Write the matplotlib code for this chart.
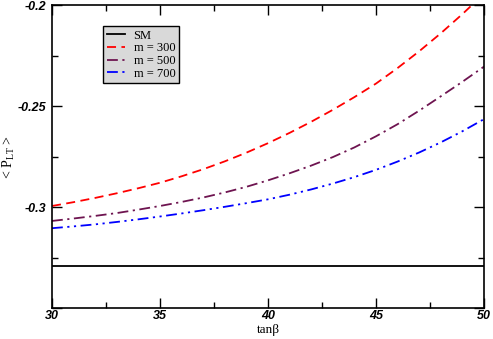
import numpy as np
import matplotlib.pyplot as plt
from matplotlib.ticker import MultipleLocator

plt.rcParams['mathtext.fontset'] = 'custom'
plt.rcParams['mathtext.rm'] = 'Liberation Serif'

# valores
tanb = [30, 31, 32, 33, 34, 35, 36, 37, 38, 39, 40,
        41, 42, 43, 44, 45, 46, 47, 48, 49, 50]
sm = [-0.3292] * len(tanb)
p_m300 = [-0.2995, -0.2976, -0.2955, -0.2932, -0.2907, -0.2880, -0.2848,
          -0.2813, -0.2774, -0.2731, -0.2684, -0.2633, -0.2578, -0.2519,
          -0.2456, -0.2389, -0.2312, -0.2229, -0.2140, -0.2045, -0.1944]
p_m500 = [-0.3069, -0.3057, -0.3044, -0.3030, -0.3013, -0.2995, -0.2975,
          -0.2953, -0.2928, -0.2900, -0.2868, -0.2833, -0.2795, -0.2753,
          -0.2705, -0.2650, -0.2590, -0.2523, -0.2452, -0.2380, -0.2305]
p_m700 = [-0.3105, -0.3096, -0.3086, -0.3074, -0.3061, -0.3047, -0.3032,
          -0.3016, -0.2999, -0.2981, -0.2962, -0.2939, -0.2913, -0.2884,
          -0.2852, -0.2816, -0.2775, -0.2730, -0.2680, -0.2625, -0.2565]

fig = plt.figure(figsize=(4.93, 3.39), dpi=100)
ax = fig.add_axes([52/493, 1 - 308/339, 432/493, 303/339])

ax.plot(tanb, sm, color='black', lw=1.3, label='SM')
ax.plot(tanb, p_m300, color='#ff0000', lw=1.3, dashes=(5, 3), label='m = 300')
ax.plot(tanb, p_m500, color='#6e1450', lw=1.3, dashes=(6, 2.5, 1.2, 2.5), label='m = 500')
ax.plot(tanb, p_m700, color='#0000ff', lw=1.3, dashes=(6, 2.5, 1.2, 2.5, 1.2, 2.5), label='m = 700')

ax.set_xlim(30, 50)
ax.set_ylim(-0.35, -0.2)
ax.xaxis.set_minor_locator(MultipleLocator(2.5))
ax.yaxis.set_minor_locator(MultipleLocator(0.025))
ax.tick_params(which='both', direction='in', top=True, right=True, width=1)
ax.tick_params(which='major', length=7)
ax.tick_params(which='minor', length=4)
ax.tick_params(axis='x', which='major', pad=1.5)
ax.tick_params(axis='y', which='major', pad=4)

tick_font = dict(family='Liberation Sans', weight='bold', style='italic', size=9)
ax.set_xticks([30, 35, 40, 45, 50])
ax.set_xticklabels(['30', '35', '40', '45', '50'], **tick_font)
ax.set_yticks([-0.35, -0.3, -0.25, -0.2])
ax.set_yticklabels(['', '-0.3', '-0.25', '-0.2'], **tick_font)

for s in ax.spines.values():
    s.set_linewidth(1.2)

ax.set_xlabel('tanβ', family='Liberation Serif', size=9.5)
ax.xaxis.set_label_coords(0.5, -0.052)
ax.set_ylabel(r'< P$_{\rm LT}$ >', family='Liberation Serif', size=10)
ax.yaxis.set_label_coords(-0.082, 0.5)

leg = ax.legend(loc='upper left', bbox_to_anchor=(0.118, 0.931), frameon=True,
                fancybox=False, shadow=False, framealpha=1,
                prop=dict(family='Liberation Serif', size=9),
                handlelength=1.5, handletextpad=0.65, labelspacing=0.05,
                borderpad=0.3, borderaxespad=0)
leg.get_frame().set_facecolor('#d9d9d9')
leg.get_frame().set_edgecolor('black')
leg.get_frame().set_linewidth(1.0)

fig.savefig('out.png', dpi=100)
